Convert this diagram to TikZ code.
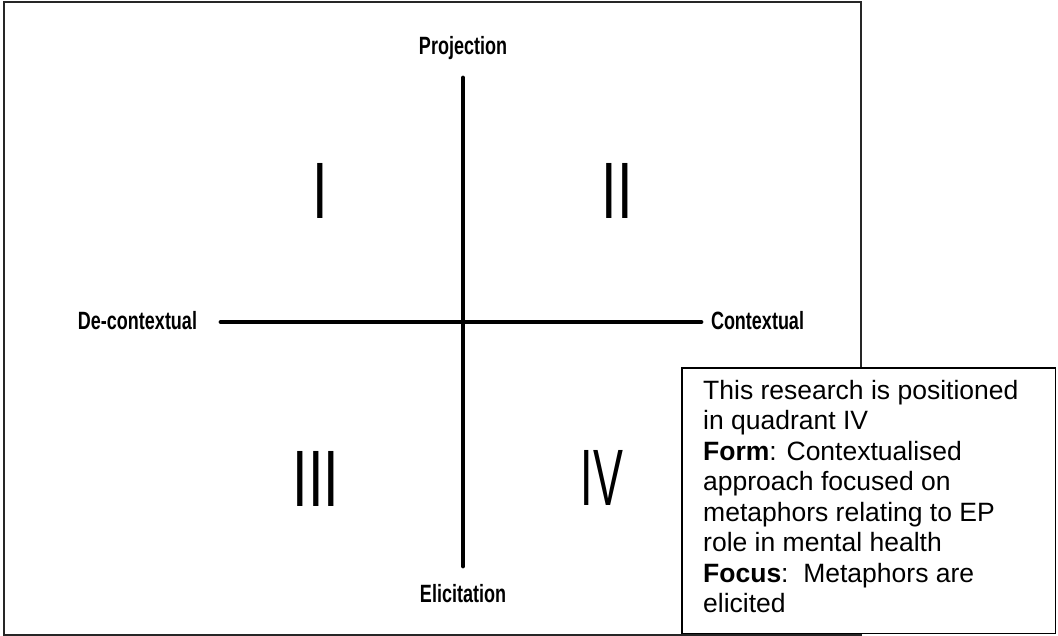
\documentclass[tikz,border=0pt]{standalone}
\usepackage{fontspec}
\usepackage{graphicx}
\setmainfont{Liberation Sans}
\begin{document}
\begin{tikzpicture}[x=1pt,y=-1pt,
  lab/.style={inner sep=0pt,font=\fontsize{25}{28}\selectfont\bfseries},
  roman/.style={inner sep=0pt,anchor=base,font=\fontsize{80}{90}\selectfont},
  axis/.style={line width=4.8pt,line cap=round,black},
  infobox/.style={draw=black,line width=1.5pt,fill=white},
  infotext/.style={inner sep=0pt,anchor=north west,align=left,font=\fontsize{26.5}{30.5}\selectfont}]
\useasboundingbox (0,0) rectangle (1058,636);
% outer frame
\draw[line width=2pt,black!85] (3.5,2.5) rectangle (861,634.5);
% axis labels
\node[lab] (proj) at (463,48) {\scalebox{0.72}[1]{Projection}};
\node[lab] (elic) at (463,594) {\scalebox{0.72}[1]{Elicitation}};
\node[lab] (decon) at (137.5,321) {\scalebox{0.72}[1]{De-contextual}};
\node[lab] (con) at (757.5,321) {\scalebox{0.72}[1]{Contextual}};
% axes
\coordinate (vtop) at (463,78);
\coordinate (vbot) at (463,566);
\coordinate (hleft) at (221,322);
\coordinate (hright) at (701,322);
\draw[axis] (vtop) -- (vbot);
\draw[axis] (hleft) -- (hright);
% quadrant numerals
\node[roman] (q1) at (320,219) {\scalebox{0.7}[1]{I}};
\node[roman] (q2) at (617,219) {\scalebox{0.7}[1]{II}};
\node[roman] (q3) at (316,506) {\scalebox{0.7}[1]{III}};
\node[roman] (q4) at (602,505) {\scalebox{0.56}[1]{IV}};
% info box
\draw[infobox] (682,368) rectangle (1055.5,633.5);
\node[infotext] (info) at (703,380) {This research is positioned\\
in quadrant IV\\
\textbf{Form}: Contextualised\\
approach focused on\\
metaphors relating to EP\\
role in mental health\\
\textbf{Focus}:\ \ Metaphors are\\
elicited};
\end{tikzpicture}
\end{document}
